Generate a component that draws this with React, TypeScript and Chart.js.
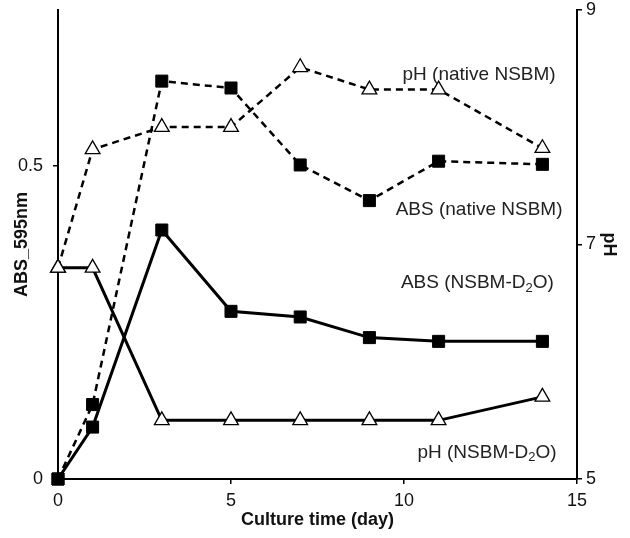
import React, { useEffect, useRef } from 'react';
import { Chart, registerables } from 'chart.js';

Chart.register(...registerables);

const days = [0, 1, 3, 5, 7, 9, 11, 14];
const absNative = [0, 0.119, 0.636, 0.625, 0.502, 0.445, 0.508, 0.503];
const absD2O = [0, 0.083, 0.398, 0.268, 0.259, 0.226, 0.22, 0.22];
const phNative = [6.8, 7.81, 8.0, 8.0, 8.51, 8.32, 8.32, 7.82];
const phD2O = [6.8, 6.8, 5.5, 5.5, 5.5, 5.5, 5.5, 5.7];

const xTicks = [0, 5, 10, 15];
const absTicks = [0, 0.5];
const phTicks = [5, 7, 9];

const seriesLabels = ['ABS (native NSBM)', 'ABS (NSBM-D2O)', 'pH (native NSBM)', 'pH (NSBM-D2O)'];

const FONT = '"Liberation Sans", Arial, Helvetica, sans-serif';
const INK = '#111';

type Seg = { t: string; sub?: boolean };
const annotations: { segs: Seg[]; x: number; y: number }[] = [
  { segs: [{ t: 'pH (native NSBM)' }], x: 12.17, y: 0.646 },
  { segs: [{ t: 'ABS (native NSBM)' }], x: 12.17, y: 0.43 },
  { segs: [{ t: 'ABS (NSBM-D' }, { t: '2', sub: true }, { t: 'O)' }], x: 12.12, y: 0.313 },
  { segs: [{ t: 'pH (NSBM-D' }, { t: '2', sub: true }, { t: 'O)' }], x: 12.4, y: 0.042 },
];

const annotationPlugin = {
  id: 'seriesNotes',
  afterDatasetsDraw(chart: any) {
    const ctx = chart.ctx;
    const xs = chart.scales.x;
    const ys = chart.scales.y;
    ctx.save();
    ctx.fillStyle = '#222';
    ctx.textBaseline = 'middle';
    ctx.textAlign = 'left';
    for (const a of annotations) {
      const cx = xs.getPixelForValue(a.x);
      const cy = ys.getPixelForValue(a.y);
      let total = 0;
      const widths: number[] = [];
      for (const s of a.segs) {
        ctx.font = s.sub ? `13px ${FONT}` : `19px ${FONT}`;
        const w = ctx.measureText(s.t).width;
        widths.push(w);
        total += w;
      }
      let px = cx - total / 2;
      a.segs.forEach((s, i) => {
        ctx.font = s.sub ? `13px ${FONT}` : `19px ${FONT}`;
        ctx.fillText(s.t, px, s.sub ? cy + 5 : cy);
        px += widths[i];
      });
    }
    ctx.restore();
  },
};

function toPoints(vals: number[]) {
  return days.map((d, i) => ({ x: d, y: vals[i] }));
}

export default function App() {
  const ref = useRef<HTMLCanvasElement | null>(null);

  useEffect(() => {
    if (!ref.current) return;
    const squareStyle = {
      pointStyle: 'rect',
      pointRadius: 8.5,
      pointHoverRadius: 8.5,
      pointBackgroundColor: '#000',
      pointBorderColor: '#000',
      pointBorderWidth: 1,
    };
    const triStyle = {
      pointStyle: 'triangle',
      pointRadius: 8.5,
      pointHoverRadius: 8.5,
      pointBackgroundColor: '#fff',
      pointBorderColor: '#000',
      pointBorderWidth: 1.3,
    };
    const chart = new Chart(ref.current, {
      type: 'line',
      data: {
        datasets: [
          {
            label: seriesLabels[0],
            data: toPoints(absNative),
            yAxisID: 'y',
            borderColor: '#000',
            borderWidth: 2.5,
            borderDash: [7, 5],
            tension: 0,
            clip: false,
            ...squareStyle,
          },
          {
            label: seriesLabels[1],
            data: toPoints(absD2O),
            yAxisID: 'y',
            borderColor: '#000',
            borderWidth: 3,
            tension: 0,
            clip: false,
            ...squareStyle,
          },
          {
            label: seriesLabels[2],
            data: toPoints(phNative),
            yAxisID: 'y2',
            borderColor: '#000',
            borderWidth: 2.5,
            borderDash: [7, 5],
            tension: 0,
            clip: false,
            ...triStyle,
          },
          {
            label: seriesLabels[3],
            data: toPoints(phD2O),
            yAxisID: 'y2',
            borderColor: '#000',
            borderWidth: 3,
            tension: 0,
            clip: false,
            ...triStyle,
          },
        ] as any,
      },
      options: {
        responsive: false,
        animation: false,
        events: [],
        layout: { padding: { top: 7, left: 0, right: 0, bottom: 0 } },
        plugins: {
          legend: { display: false },
          tooltip: { enabled: false },
          title: { display: false },
        },
        scales: {
          x: {
            type: 'linear',
            min: 0,
            max: 15,
            afterBuildTicks: (s: any) => {
              s.ticks = xTicks.map((v) => ({ value: v }));
            },
            afterFit: (s: any) => {
              s.height = 59;
              s.paddingLeft = 0;
              s.paddingRight = 0;
            },
            ticks: {
              color: INK,
              font: { family: FONT, size: 18 },
              padding: 6,
              maxRotation: 0,
              callback: (v: any) => String(v),
            },
            grid: {
              drawOnChartArea: false,
              drawTicks: true,
              tickLength: 5,
              color: '#000',
              lineWidth: 1.5,
            },
            border: { color: '#000', width: 2 },
            title: {
              display: true,
              text: 'Culture time (day)',
              color: INK,
              font: { family: FONT, size: 18, weight: 'bold' },
              padding: { top: 0, bottom: 7 },
            },
          },
          y: {
            type: 'linear',
            position: 'left',
            min: 0,
            max: 0.75,
            afterBuildTicks: (s: any) => {
              s.ticks = absTicks.map((v) => ({ value: v }));
            },
            afterFit: (s: any) => {
              s.width = 58;
              s.paddingTop = 0;
              s.paddingBottom = 0;
            },
            ticks: {
              color: INK,
              font: { family: FONT, size: 18 },
              padding: 10,
              callback: (v: any) => String(v),
            },
            grid: {
              drawOnChartArea: false,
              drawTicks: true,
              tickLength: 5,
              color: '#000',
              lineWidth: 1.5,
            },
            border: { color: '#000', width: 2 },
            title: {
              display: true,
              text: 'ABS_595nm',
              color: INK,
              font: { family: FONT, size: 18, weight: 'bold' },
              padding: { top: 11, bottom: 0 },
            },
          },
          y2: {
            type: 'linear',
            position: 'right',
            min: 5,
            max: 9,
            afterBuildTicks: (s: any) => {
              s.ticks = phTicks.map((v) => ({ value: v }));
            },
            afterFit: (s: any) => {
              s.width = 53;
              s.paddingTop = 0;
              s.paddingBottom = 0;
            },
            ticks: {
              color: INK,
              font: { family: FONT, size: 18 },
              padding: 4,
              callback: (v: any) => String(v),
            },
            grid: {
              drawOnChartArea: false,
              drawTicks: true,
              tickLength: 5,
              color: '#000',
              lineWidth: 1.5,
            },
            border: { color: '#000', width: 2 },
            title: {
              display: true,
              text: 'pH',
              color: INK,
              font: { family: FONT, size: 18, weight: 'bold' },
              padding: { top: 10, bottom: 0 },
            },
          },
        },
      } as any,
      plugins: [annotationPlugin],
    });
    return () => chart.destroy();
  }, []);

  return (
    <div style={{ position: 'fixed', left: 0, top: 0, width: 630, height: 538, background: '#fff' }}>
      <canvas ref={ref} width={630} height={538} style={{ width: 630, height: 538, display: 'block' }} />
    </div>
  );
}
